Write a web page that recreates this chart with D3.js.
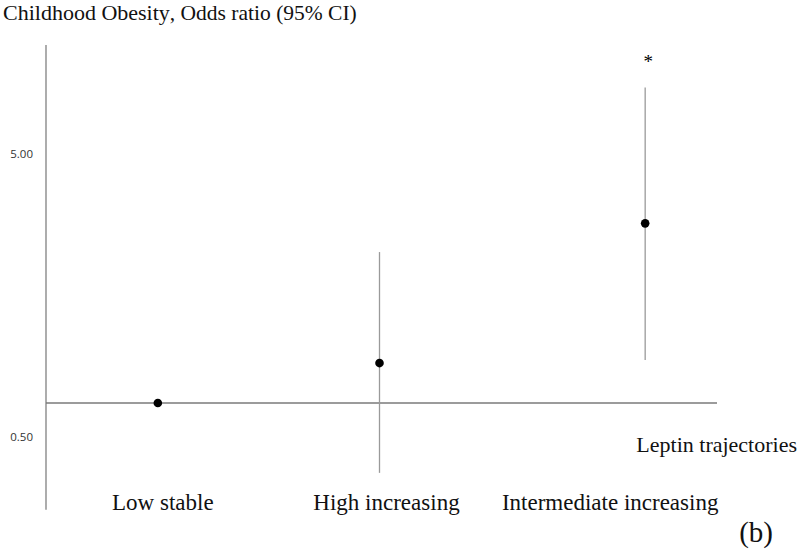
<!DOCTYPE html>
<html><head><meta charset="utf-8">
<script src="https://cdn.jsdelivr.net/npm/d3@7"></script>
<style>body{margin:0;background:#fff}</style>
</head><body>
<svg id="chart" width="800" height="551"></svg>
<script>
// ---- data ----
const categories = ["Low stable", "High increasing", "Intermediate increasing"];
const oddsRatio = [1.0, 1.64, 3.88];
const ciLower = [1.0, -0.12, 1.69];
const ciUpper = [1.0, 3.42, 6.06];
const significant = [false, false, true];
const yTickValues = [5, 0.5];
const yTickLabels = ["5.00", "0.50"];
const referenceValue = 1;

// ---- layout ----
const svg = d3.select("#chart");
const plotLeft = 46, plotRight = 717;
const markNudge = [0, -2, 40];
const labelNudge = 5;
const x = d3.scaleBand().domain(categories).range([plotLeft, plotRight]);
const y = d3.scaleLinear().domain([1, 5]).range([403, 153.5]);
const yExtent = [-0.71, 6.74];
const serif = "'Liberation Serif', 'Times New Roman', serif";

const cx = (d, i) => x(d) + x.bandwidth() / 2 + markNudge[i];

// axis line
svg.append("line").attr("x1", plotLeft).attr("x2", plotLeft)
  .attr("y1", y(yExtent[0])).attr("y2", y(yExtent[1]))
  .attr("stroke", "#808080").attr("stroke-width", 1.3);

// tick labels (via d3 axis, no ticks/domain)
const yAxis = d3.axisLeft(y).tickValues(yTickValues)
  .tickFormat((d, i) => yTickLabels[i]).tickSize(0).tickPadding(13);
const ga = svg.append("g").attr("transform", `translate(${plotLeft},0)`).call(yAxis);
ga.select(".domain").remove();
ga.selectAll("text").attr("font-family", "'Open Sans', 'DejaVu Sans', sans-serif")
  .attr("font-size", 11.5).attr("fill", "#333");
ga.selectAll(".tick").filter(d => d === 0.5).attr("transform", `translate(0,${y(0.5) + 3})`);

// reference line
svg.append("line").attr("x1", plotLeft).attr("x2", plotRight)
  .attr("y1", y(referenceValue)).attr("y2", y(referenceValue))
  .attr("stroke", "#7a7a7a").attr("stroke-width", 1.5);

// CI lines
svg.selectAll("line.ci").data(categories).join("line").attr("class", "ci")
  .attr("x1", cx).attr("x2", cx)
  .attr("y1", (d, i) => y(ciLower[i])).attr("y2", (d, i) => y(ciUpper[i]))
  .attr("stroke", "#9a9a9a").attr("stroke-width", 1.3);

// points
svg.selectAll("circle.pt").data(categories).join("circle").attr("class", "pt")
  .attr("cx", cx).attr("cy", (d, i) => y(oddsRatio[i])).attr("r", 4.3)
  .attr("fill", "#000");

// significance markers
svg.selectAll("text.sig").data(categories.filter((d, i) => significant[i])).join("text")
  .attr("class", "sig")
  .attr("x", d => cx(d, categories.indexOf(d)) + 3)
  .attr("y", d => y(ciUpper[categories.indexOf(d)]) - 19)
  .attr("text-anchor", "middle").attr("font-family", serif).attr("font-size", 19)
  .text("*");

// category labels
svg.selectAll("text.cat").data(categories).join("text").attr("class", "cat")
  .attr("x", d => x(d) + x.bandwidth() / 2 + labelNudge)
  .attr("y", 510).attr("text-anchor", "middle")
  .attr("font-family", serif).attr("font-size", 23).attr("fill", "#111")
  .text(d => d);

// x axis title
svg.append("text").attr("x", 797).attr("y", 452).attr("text-anchor", "end")
  .attr("font-family", serif).attr("font-size", 22).attr("fill", "#111")
  .text("Leptin trajectories");

// title
const t = svg.append("text").attr("x", 3).attr("y", 20)
  .attr("font-family", serif).attr("fill", "#111");
t.append("tspan").attr("font-size", 22).text("Childhood Obesity");
t.append("tspan").attr("font-size", 21.5).text(", Odds ratio (95% CI)");

// panel label
svg.append("text").attr("x", 773).attr("y", 542).attr("text-anchor", "end")
  .attr("font-family", serif).attr("font-size", 29).attr("fill", "#111")
  .text("(b)");
</script>
</body></html>
